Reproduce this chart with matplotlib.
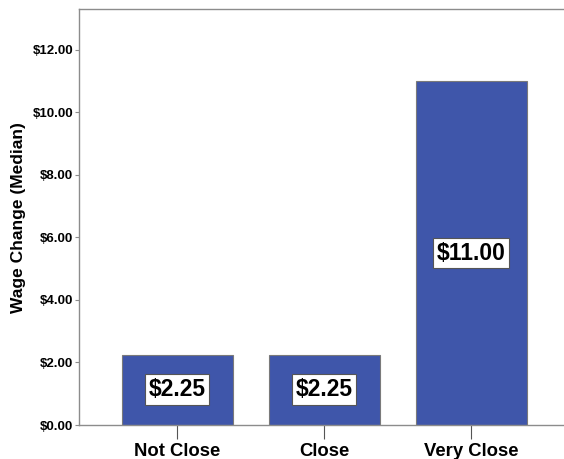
import matplotlib.pyplot as plt
from matplotlib.ticker import FuncFormatter

plt.rcParams['font.family'] = ['Liberation Sans', 'DejaVu Sans']

# median wage change by closeness group
categories = ['Not Close', 'Close', 'Very Close']
medians = [2.25, 2.25, 11.00]
y_ticks = [0, 2, 4, 6, 8, 10, 12]

bar_color = '#3F56AA'
frame_color = '#8C8C8C'

fig = plt.figure(figsize=(5.64, 4.59), dpi=100)
ax = fig.add_axes([0.140, 0.074, 0.869, 0.906])

x = range(len(categories))
ax.bar(x, medians, width=0.755, color=bar_color, edgecolor='#7A7A7A', linewidth=0.8, zorder=2)

# value boxes in the middle of each bar
for xi, v in zip(x, medians):
    ax.text(xi, v / 2, f"${v:.2f}", ha='center', va='center', fontsize=16.5, fontweight='bold',
            color='black', zorder=3,
            bbox=dict(boxstyle='square,pad=0.17', facecolor='white', edgecolor='#555555', linewidth=0.8))

ax.set_xlim(-0.667, 2.667)
ax.set_ylim(0, 13.3)
ax.set_xticks(list(x))
ax.set_xticklabels(categories, fontsize=13.3, fontweight='bold')
ax.set_yticks(y_ticks)
ax.yaxis.set_major_formatter(FuncFormatter(lambda v, p: f"${v:.2f}"))
for lbl in ax.get_yticklabels():
    lbl.set_fontweight('bold')
    lbl.set_fontsize(9.5)

ax.tick_params(axis='y', length=3, width=0.8, color=frame_color, pad=1)
ax.tick_params(axis='x', length=10, width=0.8, color='#555555', pad=3)
ax.set_ylabel("Wage Change (Median)", fontsize=12.5, fontweight='bold', labelpad=5)

for s in ax.spines.values():
    s.set_color(frame_color)
    s.set_linewidth(1.0)

plt.savefig('out.png', dpi=100)
